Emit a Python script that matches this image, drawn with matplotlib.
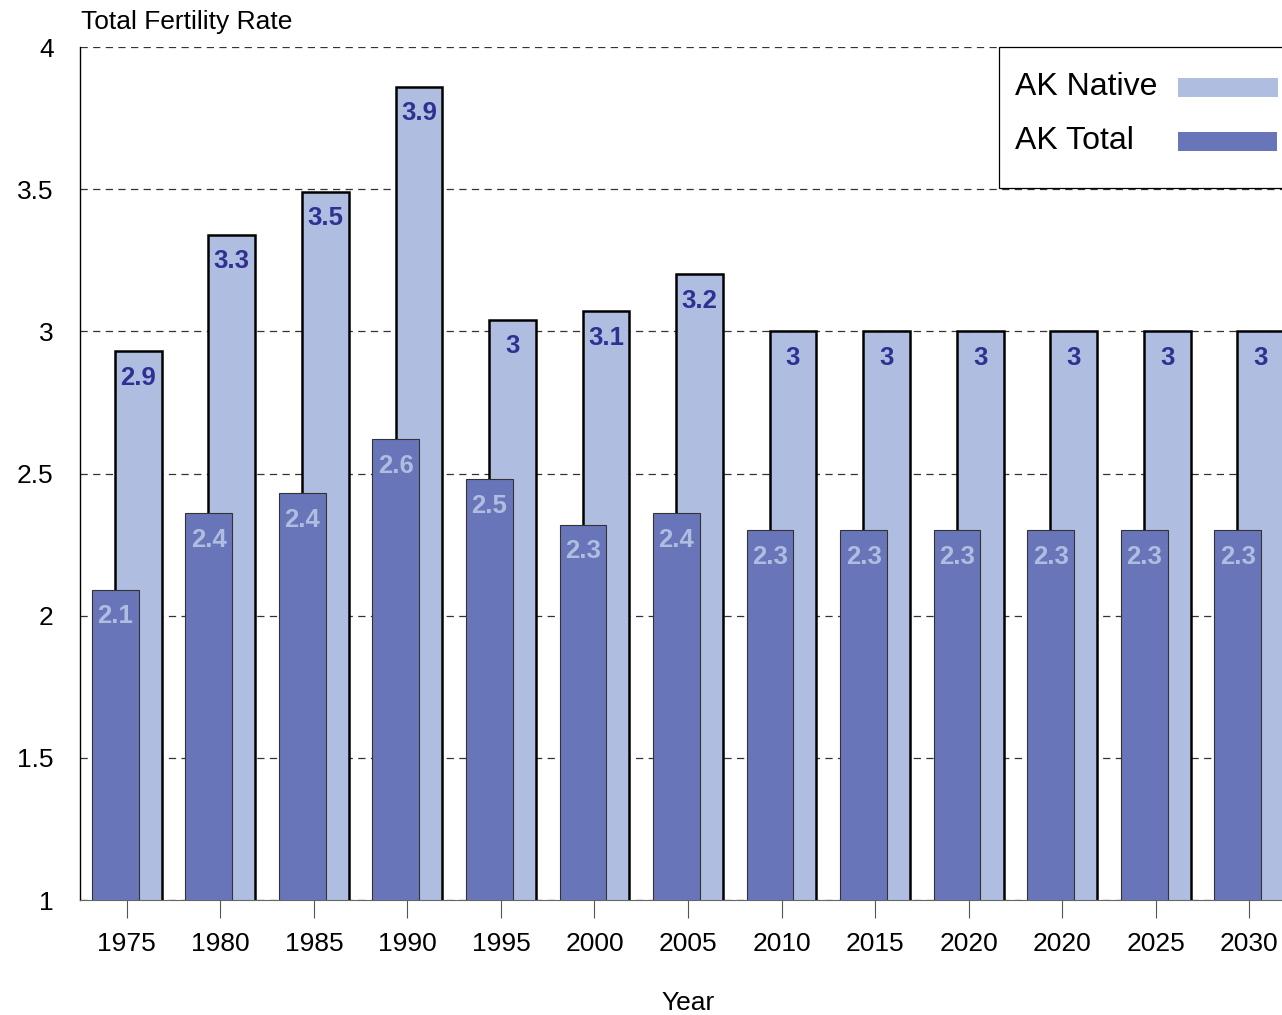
import matplotlib
matplotlib.use("Agg")
import matplotlib.pyplot as plt
from matplotlib.patches import Rectangle
import numpy as np

plt.rcParams['font.family'] = ['Liberation Sans', 'DejaVu Sans']

years = ['1975', '1980', '1985', '1990', '1995', '2000', '2005',
         '2010', '2015', '2020', '2020', '2025', '2030']
ak_native = [2.93, 3.34, 3.49, 3.86, 3.04, 3.07, 3.20,
             3.00, 3.00, 3.00, 3.00, 3.00, 3.00]
ak_total = [2.09, 2.36, 2.43, 2.62, 2.48, 2.32, 2.36,
            2.30, 2.30, 2.30, 2.30, 2.30, 2.30]
yticks = [1, 1.5, 2, 2.5, 3, 3.5, 4]
ytick_labels = ['1', '1.5', '2', '2.5', '3', '3.5', '4']

light = '#AFBDE0'
dark = '#6875B9'
label_dark = '#2E3192'

W, H = 1282, 1015
fig = plt.figure(figsize=(W / 100, H / 100), dpi=100)

def fx(px):
    return px / W

def fy(py):
    return 1 - py / H

ax = fig.add_axes([fx(80), fy(900), fx(1296) - fx(80), fy(47) - fy(900)])

x = np.arange(len(years))
off = 0.123
bw = 0.5
ax.bar(x + off, ak_native, bw, color=light, edgecolor='black', linewidth=1.8, zorder=2)
ax.bar(x - off, ak_total, bw, color=dark, edgecolor='#333333', linewidth=0.8, zorder=3)

for xi, v in zip(x, ak_native):
    ax.annotate('{:g}'.format(round(v, 1)), (xi + off, v), xytext=(0, -19),
                textcoords='offset points', ha='center', va='center',
                fontsize=18.5, fontweight='bold', color=label_dark, zorder=5)
for xi, v in zip(x, ak_total):
    ax.annotate('{:g}'.format(round(v, 1)), (xi - off, v), xytext=(0, -19),
                textcoords='offset points', ha='center', va='center',
                fontsize=18.5, fontweight='bold', color=light, zorder=5)

ax.set_xlim(-0.5, len(years) - 0.5)
ax.set_ylim(1, 4)
ax.set_yticks(yticks)
ax.set_yticklabels(ytick_labels)
ax.set_xticks(x)
ax.set_xticklabels(years)

ax.set_axisbelow(True)
ax.yaxis.grid(True, linestyle=(0, (5.8, 4.3)), color='#333333', linewidth=0.9)
ax.xaxis.grid(False)

for s in ['top', 'right']:
    ax.spines[s].set_visible(False)
ax.spines['left'].set_color('black')
ax.spines['left'].set_linewidth(1.0)
ax.spines['bottom'].set_color('#666666')
ax.spines['bottom'].set_linewidth(0.8)

ax.tick_params(axis='y', length=0, pad=19, labelsize=19)
ax.tick_params(axis='x', length=13, width=0.8, color='#555555', direction='out',
               pad=10, labelsize=19)

ax.set_xlabel('Year', fontsize=19, labelpad=25)

fig.text(fx(81), fy(22), 'Total Fertility Rate', fontsize=19, ha='left', va='center')

# legend box
fig.patches.append(Rectangle((fx(999), fy(188)), fx(1300) - fx(999), fy(47) - fy(188),
                             transform=fig.transFigure, facecolor='white',
                             edgecolor='black', linewidth=0.9, zorder=10))
fig.text(fx(1015), fy(87), 'AK Native', fontsize=23, ha='left', va='center', zorder=11)
fig.text(fx(1015), fy(141), 'AK Total', fontsize=23, ha='left', va='center', zorder=11)
fig.patches.append(Rectangle((fx(1178), fy(97)), fx(1278) - fx(1178), fy(78) - fy(97),
                             transform=fig.transFigure, facecolor=light,
                             edgecolor='none', zorder=11))
fig.patches.append(Rectangle((fx(1178), fy(151)), fx(1277) - fx(1178), fy(132) - fy(151),
                             transform=fig.transFigure, facecolor=dark,
                             edgecolor='none', zorder=11))

fig.savefig('out.png', dpi=100)
